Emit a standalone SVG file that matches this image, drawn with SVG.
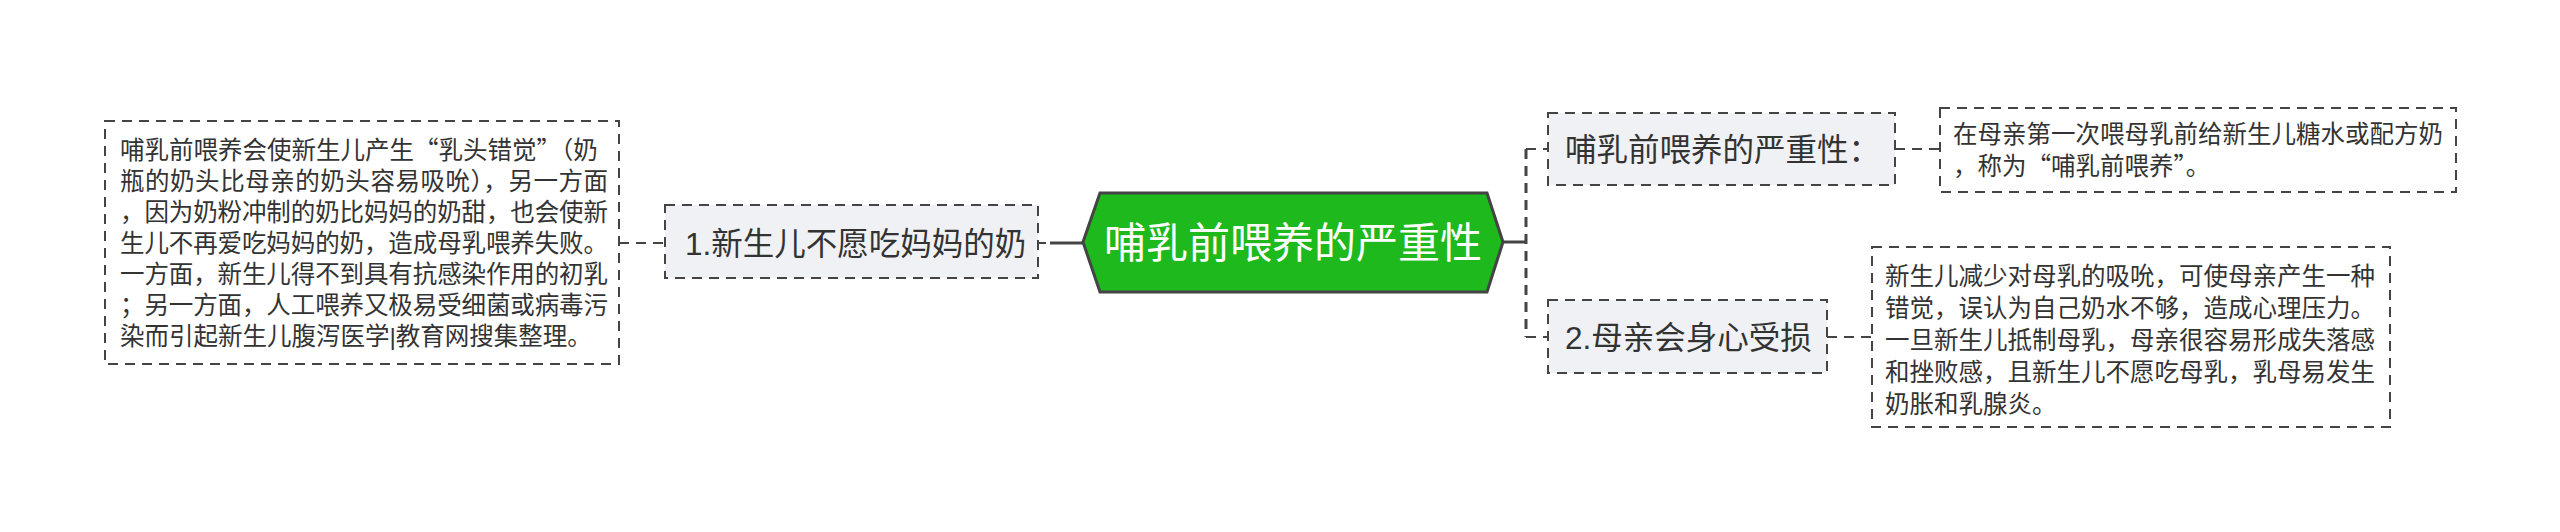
<svg xmlns="http://www.w3.org/2000/svg" width="2560" height="532" viewBox="0 0 2560 532">
<style>
.box{fill:#ffffff;stroke:#444;stroke-width:2;stroke-dasharray:10 7}
.node{fill:#eff1f4;stroke:#444;stroke-width:2;stroke-dasharray:10 7}
.t{font-family:"Liberation Sans","Noto Sans CJK SC",sans-serif;fill:#333}
.q{font-family:"Noto Sans CJK SC",sans-serif;font-feature-settings:"fwid"}
.s{font-size:24.5px}
.m{font-size:31.5px}
.c{stroke:#444;fill:none;stroke-width:2;stroke-dasharray:10 7}
.solid{stroke:#444;fill:none;stroke-width:3}
</style>
<rect width="2560" height="532" fill="#ffffff"/>
<g id="connectors">
<line class="c" x1="619" y1="243" x2="665" y2="243"/>
<line class="c" x1="1038" y1="243" x2="1046" y2="243"/>
<line class="solid" x1="1050" y1="243" x2="1084" y2="243"/>
<line class="solid" x1="1503" y1="242" x2="1526" y2="242"/>
<line class="c" x1="1526" y1="149" x2="1526" y2="337" style="stroke-width:3"/>
<line class="c" x1="1526" y1="149" x2="1548" y2="149"/>
<line class="c" x1="1526" y1="337" x2="1548" y2="337"/>
<line class="c" x1="1895" y1="149" x2="1940" y2="149"/>
<line class="c" x1="1827" y1="337" x2="1872" y2="337"/>
</g>
<g id="root">
<polygon points="1083,242 1100,193 1487,193 1503,242 1487,292 1100,292" fill="#1db91d" stroke="#444" stroke-width="3"/>
<text class="t" x="1293" y="258" font-size="42" text-anchor="middle" style="fill:#ffffff">哺乳前喂养的严重性</text>
</g>
<g id="node1">
<rect class="node" x="665" y="205" width="373" height="73"/>
<text class="t m" x="685" y="255">1.新生儿不愿吃妈妈的奶</text>
</g>
<g id="note1">
<rect class="box" x="105" y="121" width="514" height="243"/>
<text class="t s">
<tspan x="120" y="159">哺乳前喂养会使新生儿产生<tspan class="q">“</tspan>乳头错觉<tspan class="q">”</tspan>（奶</tspan>
<tspan x="120" y="190" textLength="488" lengthAdjust="spacing">瓶的奶头比母亲的奶头容易吸吮），另一方面</tspan>
<tspan x="120" y="221" textLength="488" lengthAdjust="spacing">，因为奶粉冲制的奶比妈妈的奶甜，也会使新</tspan>
<tspan x="120" y="252" textLength="488" lengthAdjust="spacing">生儿不再爱吃妈妈的奶，造成母乳喂养失败。</tspan>
<tspan x="120" y="283" textLength="488" lengthAdjust="spacing">一方面，新生儿得不到具有抗感染作用的初乳</tspan>
<tspan x="120" y="314" textLength="488" lengthAdjust="spacing">；另一方面，人工喂养又极易受细菌或病毒污</tspan>
<tspan x="120" y="345">染而引起新生儿腹泻医学|教育网搜集整理。</tspan>
</text>
</g>
<g id="node2">
<rect class="node" x="1548" y="113" width="347" height="72"/>
<text class="t m" x="1565" y="161">哺乳前喂养的严重性：</text>
</g>
<g id="note2">
<rect class="box" x="1940" y="108" width="516" height="84"/>
<text class="t s">
<tspan x="1953" y="143" textLength="490" lengthAdjust="spacing">在母亲第一次喂母乳前给新生儿糖水或配方奶</tspan>
<tspan x="1953" y="175">，称为<tspan class="q">“</tspan>哺乳前喂养<tspan class="q">”</tspan>。</tspan>
</text>
</g>
<g id="node3">
<rect class="node" x="1548" y="300" width="279" height="73"/>
<text class="t m" x="1565" y="349">2.母亲会身心受损</text>
</g>
<g id="note3">
<rect class="box" x="1872" y="247" width="518" height="180"/>
<text class="t s">
<tspan x="1885" y="285" textLength="490" lengthAdjust="spacing">新生儿减少对母乳的吸吮，可使母亲产生一种</tspan>
<tspan x="1885" y="317" textLength="490" lengthAdjust="spacing">错觉，误认为自己奶水不够，造成心理压力。</tspan>
<tspan x="1885" y="349" textLength="490" lengthAdjust="spacing">一旦新生儿抵制母乳，母亲很容易形成失落感</tspan>
<tspan x="1885" y="381" textLength="490" lengthAdjust="spacing">和挫败感，且新生儿不愿吃母乳，乳母易发生</tspan>
<tspan x="1885" y="413">奶胀和乳腺炎。</tspan>
</text>
</g>
</svg>
